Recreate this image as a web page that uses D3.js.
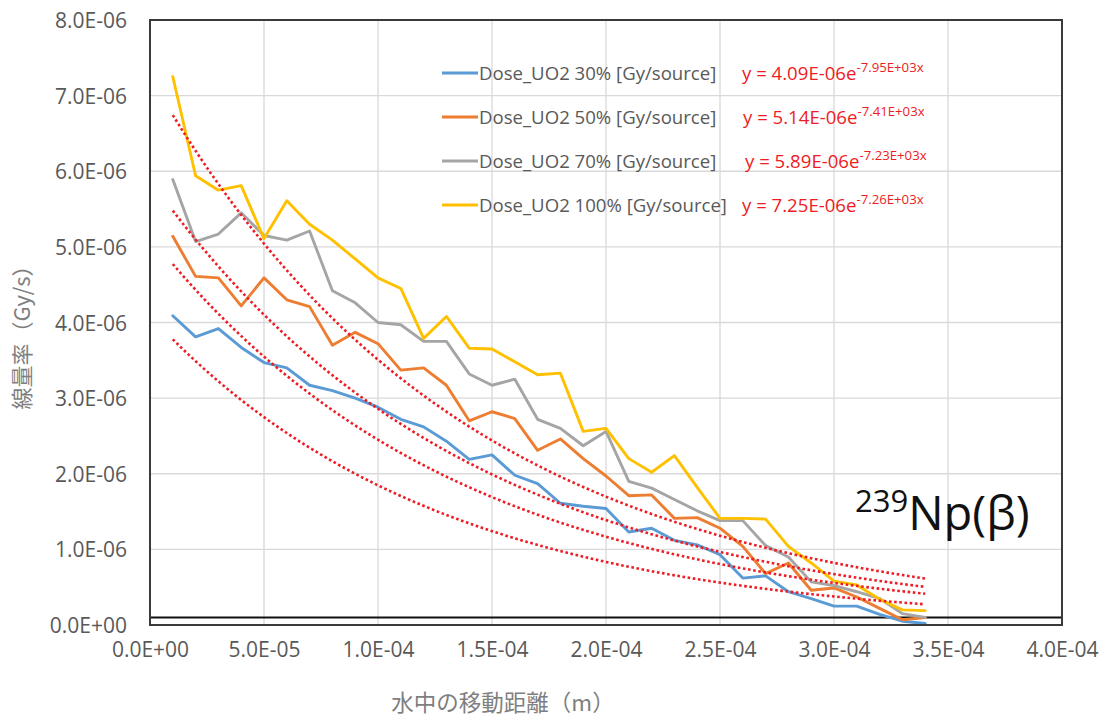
<!DOCTYPE html>
<html>
<head>
<meta charset="utf-8">
<script src="https://cdn.jsdelivr.net/npm/d3@7"></script>
<style>
  html, body { margin: 0; padding: 0; background: #ffffff; }
  svg { display: block; }
</style>
</head>
<body>
<svg id="chart" width="1108" height="718"></svg>
<script>
// Travel distance in water (m)
const distances = [
  1.0e-5, 2.0e-5, 3.0e-5, 4.0e-5, 5.0e-5, 6.0e-5, 7.0e-5, 8.0e-5, 9.0e-5, 1.0e-4,
  1.1e-4, 1.2e-4, 1.3e-4, 1.4e-4, 1.5e-4, 1.6e-4, 1.7e-4, 1.8e-4, 1.9e-4, 2.0e-4,
  2.1e-4, 2.2e-4, 2.3e-4, 2.4e-4, 2.5e-4, 2.6e-4, 2.7e-4, 2.8e-4, 2.9e-4, 3.0e-4,
  3.1e-4, 3.2e-4, 3.3e-4, 3.4e-4
];

// Dose rate per source (x1e-6 Gy/s)
const dose30 = [
  4.09, 3.81, 3.92, 3.67, 3.47, 3.40, 3.17, 3.10, 3.00, 2.88,
  2.72, 2.62, 2.43, 2.19, 2.25, 1.98, 1.87, 1.61, 1.57, 1.54,
  1.23, 1.28, 1.12, 1.06, 0.93, 0.62, 0.65, 0.44, 0.35, 0.25,
  0.25, 0.14, 0.05, 0.02
];
const dose50 = [
  5.14, 4.61, 4.59, 4.22, 4.59, 4.30, 4.21, 3.70, 3.87, 3.72,
  3.37, 3.40, 3.17, 2.70, 2.82, 2.73, 2.31, 2.46, 2.20, 1.97,
  1.71, 1.72, 1.41, 1.42, 1.28, 1.04, 0.68, 0.82, 0.46, 0.49,
  0.37, 0.22, 0.07, 0.10
];
const dose70 = [
  5.89, 5.07, 5.17, 5.45, 5.15, 5.09, 5.21, 4.42, 4.26, 4.00,
  3.97, 3.75, 3.75, 3.32, 3.17, 3.25, 2.72, 2.60, 2.37, 2.56,
  1.90, 1.81, 1.66, 1.51, 1.38, 1.38, 1.05, 0.90, 0.57, 0.52,
  0.44, 0.35, 0.15, 0.10
];
const dose100 = [
  7.25, 5.94, 5.75, 5.81, 5.11, 5.61, 5.30, 5.09, 4.84, 4.59,
  4.45, 3.79, 4.08, 3.66, 3.65, 3.48, 3.31, 3.33, 2.56, 2.60,
  2.20, 2.02, 2.24, 1.82, 1.41, 1.41, 1.40, 1.04, 0.82, 0.58,
  0.53, 0.34, 0.20, 0.19
];

const seriesNames = [
  "Dose_UO2 30% [Gy/source]",
  "Dose_UO2 50% [Gy/source]",
  "Dose_UO2 70% [Gy/source]",
  "Dose_UO2 100% [Gy/source]"
];
const seriesColors = ["#5b9bd5", "#ed7d31", "#a5a5a5", "#ffc000"];

// Exponential fit y = A * exp(B * x) for each series
const fitA = [4.09e-6, 5.14e-6, 5.89e-6, 7.25e-6];
const fitB = [-7.95e3, -7.41e3, -7.23e3, -7.26e3];
const fitLabelA = ["4.09E-06", "5.14E-06", "5.89E-06", "7.25E-06"];
const fitLabelB = ["-7.95E+03x", "-7.41E+03x", "-7.23E+03x", "-7.26E+03x"];

// Reference level line
const referenceLevel = [1.0e-7];

const xTicks = [0, 5e-5, 1e-4, 1.5e-4, 2e-4, 2.5e-4, 3e-4, 3.5e-4, 4e-4];
const xTickLabels = ["0.0E+00", "5.0E-05", "1.0E-04", "1.5E-04", "2.0E-04", "2.5E-04", "3.0E-04", "3.5E-04", "4.0E-04"];
const yTicks = [0, 1e-6, 2e-6, 3e-6, 4e-6, 5e-6, 6e-6, 7e-6, 8e-6];
const yTickLabels = ["0.0E+00", "1.0E-06", "2.0E-06", "3.0E-06", "4.0E-06", "5.0E-06", "6.0E-06", "7.0E-06", "8.0E-06"];

const latin = "'Open Sans', 'Noto Sans', sans-serif";
const cjk = "'Noto Sans CJK JP', 'Open Sans', sans-serif";

const plot = { left: 150, right: 1062, top: 20, bottom: 625 };

const svg = d3.select("#chart");

const x = d3.scaleLinear().domain([0, 4e-4]).range([plot.left, plot.right]);
const y = d3.scaleLinear().domain([0, 8e-6]).range([plot.bottom, plot.top]);

// Gridlines
const grid = svg.append("g").attr("stroke", "#d9d9d9").attr("stroke-width", 1.3);
grid.selectAll("line.h").data(yTicks).join("line")
  .attr("x1", plot.left).attr("x2", plot.right)
  .attr("y1", d => y(d)).attr("y2", d => y(d));
grid.selectAll("line.v").data(xTicks).join("line")
  .attr("y1", plot.top).attr("y2", plot.bottom)
  .attr("x1", d => x(d)).attr("x2", d => x(d));

// Axis tick labels via d3 axes
const yAxis = d3.axisLeft(y).tickValues(yTicks)
  .tickFormat((d, i) => yTickLabels[i]).tickSize(0).tickPadding(0);
const gy = svg.append("g").attr("transform", `translate(127,0)`).call(yAxis);
gy.select(".domain").remove();
gy.selectAll("text")
  .attr("font-family", latin).attr("font-size", 21)
  .attr("fill", "#595959").attr("dy", "0.36em").attr("x", 0);

const xAxis = d3.axisBottom(x).tickValues(xTicks)
  .tickFormat((d, i) => xTickLabels[i]).tickSize(0).tickPadding(0);
const gx = svg.append("g").attr("transform", `translate(0,649)`).call(xAxis);
gx.select(".domain").remove();
gx.selectAll("text")
  .attr("font-family", latin).attr("font-size", 21)
  .attr("fill", "#595959").attr("dy", "0.36em").attr("y", 0);

// Reference level
svg.selectAll("line.ref").data(referenceLevel).join("line")
  .attr("class", "ref")
  .attr("x1", plot.left).attr("x2", plot.right)
  .attr("y1", d => y(d)).attr("y2", d => y(d))
  .attr("stroke", "#111").attr("stroke-width", 2);

// Data series
const allSeries = [dose30, dose50, dose70, dose100];
const line = d3.line()
  .x(d => x(d[0]))
  .y(d => y(d[1] * 1e-6));

svg.append("g").selectAll("path").data(allSeries).join("path")
  .attr("d", vals => line(vals.map((v, i) => [distances[i], v])))
  .attr("fill", "none")
  .attr("stroke", (d, i) => seriesColors[i])
  .attr("stroke-width", 2.9)
  .attr("stroke-linejoin", "round")
  .attr("stroke-linecap", "round");

// Exponential trend curves
const xFit = d3.range(0, 101).map(k => distances[0] + (distances[distances.length - 1] - distances[0]) * k / 100);
const fitLine = d3.line().x(d => x(d[0])).y(d => y(d[1]));
svg.append("g").selectAll("path").data(fitA).join("path")
  .attr("d", (a, i) => fitLine(xFit.map(xv => [xv, a * Math.exp(fitB[i] * xv)])))
  .attr("fill", "none")
  .attr("stroke", "#ee1c24")
  .attr("stroke-width", 2.6)
  .attr("stroke-dasharray", "2.6 2.6");

// Plot frame
svg.append("rect")
  .attr("x", plot.left).attr("y", plot.top)
  .attr("width", plot.right - plot.left).attr("height", plot.bottom - plot.top)
  .attr("fill", "none").attr("stroke", "#3a3a3a").attr("stroke-width", 2);

// Legend
const legendRows = [73, 117, 161, 205];
const legendEqX = [742, 743, 745, 742];
const lg = svg.append("g");
seriesNames.forEach((name, i) => {
  const ly = legendRows[i];
  lg.append("line")
    .attr("x1", 442).attr("x2", 478).attr("y1", ly).attr("y2", ly)
    .attr("stroke", seriesColors[i]).attr("stroke-width", 2.8);
  lg.append("text")
    .attr("x", 479).attr("y", ly).attr("dy", "0.36em")
    .attr("font-family", latin).attr("font-size", 18.6)
    .attr("fill", "#595959").text(name);
  const eq = lg.append("text")
    .attr("x", legendEqX[i]).attr("y", ly + 7)
    .attr("font-family", latin).attr("font-size", 18.6)
    .attr("fill", "#ee1c24");
  eq.append("tspan").text(`y = ${fitLabelA[i]}e`);
  eq.append("tspan").attr("font-size", 13.2).attr("dy", -8).text(fitLabelB[i]);
});

// Nuclide label
const nl = svg.append("text")
  .attr("x", 855).attr("y", 530)
  .attr("font-family", latin).attr("fill", "#111");
nl.append("tspan").attr("font-size", 31).attr("dy", -18).text("239");
nl.append("tspan").attr("font-size", 47).attr("dy", 18).text("Np(β)");

// Axis titles
svg.append("text")
  .attr("x", 503).attr("y", 703).attr("dy", "0.36em")
  .attr("text-anchor", "middle")
  .attr("font-family", cjk).attr("font-size", 22.5)
  .attr("fill", "#7f7f7f")
  .text("水中の移動距離（m）");

svg.append("text")
  .attr("transform", "translate(22,332) rotate(-90)")
  .attr("dy", "0.36em")
  .attr("text-anchor", "middle")
  .attr("font-family", cjk).attr("font-size", 22)
  .attr("fill", "#7f7f7f")
  .text("線量率（Gy/s）");
</script>
</body>
</html>
